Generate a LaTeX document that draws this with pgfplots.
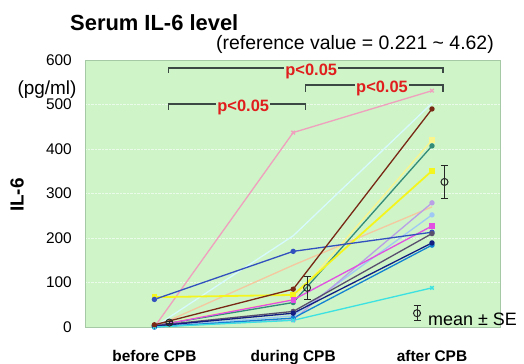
\documentclass[border=0pt]{standalone}
\usepackage{fontspec}
\setmainfont{Liberation Sans}
\usepackage{pgfplots}
\pgfplotsset{compat=1.18}

\definecolor{bg}{RGB}{206,244,200}
\definecolor{bordercol}{RGB}{165,200,165}
\definecolor{brk}{RGB}{60,72,68}
\definecolor{pred}{RGB}{225,30,30}
\definecolor{cpink}{RGB}{240,160,190}
\definecolor{cpalecyan}{RGB}{215,250,255}
\definecolor{cbrown}{RGB}{120,40,20}
\definecolor{clightyellow}{RGB}{250,245,140}
\definecolor{cteal}{RGB}{50,140,120}
\definecolor{cyellow}{RGB}{245,245,30}
\definecolor{clavender}{RGB}{185,160,230}
\definecolor{cpeach}{RGB}{245,200,160}
\definecolor{clightblue}{RGB}{160,200,245}
\definecolor{cmagenta}{RGB}{225,80,225}
\definecolor{croyal}{RGB}{50,80,190}
\definecolor{cslate}{RGB}{90,80,110}
\definecolor{cnavy}{RGB}{20,30,130}
\definecolor{cdodger}{RGB}{20,130,210}
\definecolor{ccyan}{RGB}{60,225,225}

\begin{document}
\begin{tikzpicture}[x=1bp,y=1bp]
\useasboundingbox (0,0) rectangle (524,363);
\begin{axis}[
  at={(85bp,36bp)}, anchor=south west,
  scale only axis, width=415bp, height=267bp,
  xmin=-0.5, xmax=2.49, ymin=0, ymax=600,
  axis background/.style={fill=bg},
  axis line style={draw=bordercol, line width=1bp},
  ytick={0,100,...,600},
  xtick={0,1,2},
  xticklabels={before CPB, during CPB, after CPB},
  major tick length=0pt,
  ymajorgrids,
  grid style={densely dotted, white!60!bg, line width=0.9bp},
  /pgf/number format/assume math mode=true,
  yticklabel style={font=\fontsize{15.5}{16}\selectfont, inner sep=0pt, anchor=east, xshift=-13bp},
  xticklabel style={font=\bfseries\fontsize{15.5}{16}\selectfont, inner sep=0pt, anchor=base, yshift=-34bp},
  every axis plot/.append style={line width=1.3bp, mark size=2bp},
  clip=false,
]
% individual patients
\addplot[cpalecyan, mark=none] coordinates {(0,0) (1,205) (2,503)};
\addplot[clightyellow, mark=square*] coordinates {(0,3) (1,62) (2,420)};
\addplot[cpeach, mark=none] coordinates {(0,0) (1,139) (2,270)};
\addplot[clightblue, mark=*] coordinates {(0,0) (1,25) (2,252)};
\addplot[clavender, mark=*] coordinates {(0,0) (1,16) (2,279)};
\addplot[cpink, mark=x, mark size=2.5bp] coordinates {(0,0) (1,437) (2,531)};
\addplot[cteal, mark=*] coordinates {(0,3) (1,55) (2,407)};
\addplot[cyellow, mark=square*, line width=1.8bp] coordinates {(0,67) (1,72) (2,351)};
\addplot[cmagenta, mark=square*] coordinates {(0,2) (1,61) (2,227)};
\addplot[croyal, mark=*] coordinates {(0,62) (1,170) (2,213)};
\addplot[cslate, mark=*] coordinates {(0,3) (1,35) (2,210)};
\addplot[cdodger, mark=*] coordinates {(0,0) (1,20) (2,184)};
\addplot[cnavy, mark=*] coordinates {(0,2) (1,31) (2,189)};
\addplot[ccyan, mark=x, mark size=2.5bp] coordinates {(0,0) (1,15) (2,88)};
\addplot[cbrown, mark=*] coordinates {(0,5) (1,85) (2,490)};
% means +- SE (and legend sample)
\addplot[black!85, only marks, mark=o, mark size=3.5bp, line width=1bp,
  error bars/.cd, y dir=both, y explicit,
  error bar style={black!85, line width=1bp},
  error mark options={black!85, mark size=3.5bp, line width=1bp, rotate=90}]
  coordinates {(0.108,10) +- (0,3) (1.10,88) +- (0,26) (2.09,326) +- (0,37) (1.892,31) +- (0,17)};
% significance brackets
\addplot[brk, line width=1.3bp, mark=none] coordinates {(0.10,571) (0.10,582) (2.08,582) (2.08,571)};
\addplot[brk, line width=1.3bp, mark=none] coordinates {(1.09,529) (1.09,544) (2.08,544) (2.08,529)};
\addplot[brk, line width=1.3bp, mark=none] coordinates {(0.10,488) (0.10,501) (1.09,501) (1.09,488)};
\node[font=\bfseries\fontsize{16.5}{17}\selectfont, text=pred, fill=bg, inner sep=1bp] at (axis cs:1.13,574) {p<0.05};
\node[font=\bfseries\fontsize{16.5}{17}\selectfont, text=pred, fill=bg, inner sep=1bp] at (axis cs:1.64,537) {p<0.05};
\node[font=\bfseries\fontsize{16.5}{17}\selectfont, text=pred, fill=bg, inner sep=1bp] at (axis cs:0.64,494) {p<0.05};
\end{axis}
% titles and labels
\node[anchor=base west, inner sep=0pt, font=\bfseries\fontsize{22}{22}\selectfont] at (70,333) {Serum IL-6 level};
\node[anchor=base west, inner sep=0pt, font=\fontsize{19.5}{20}\selectfont] at (216,314) {(reference value = 0.221 \textasciitilde{} 4.62)};
\node[inner sep=0pt, font=\fontsize{19}{19}\selectfont] at (47,273) {(pg/ml)};
\node[inner sep=0pt, rotate=90, font=\bfseries\fontsize{19}{19}\selectfont] at (17,168) {IL-6};
\node[anchor=base west, inner sep=0pt, font=\fontsize{18}{18}\selectfont] at (428,38) {mean ± SE};
\end{tikzpicture}
\end{document}
